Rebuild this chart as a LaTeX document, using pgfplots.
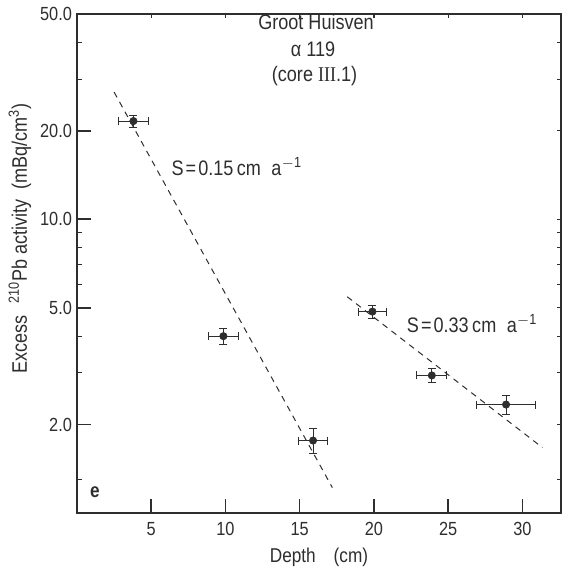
\documentclass[border=0pt]{standalone}
\usepackage{pgfplots}
\pgfplotsset{compat=1.18}
\usepackage{fontspec}
\setmainfont{Liberation Sans}[FakeStretch=0.86]
\newfontfamily\seriffont{Liberation Serif}[FakeStretch=0.86]
\usetikzlibrary{calc}
\definecolor{ink}{HTML}{2E2E2E}
\pgfplotsset{/pgf/number format/assume math mode=true}
\begin{document}
\begin{tikzpicture}
\begin{axis}[
  scale only axis, width=242pt, height=249.5pt,
  xmin=0, xmax=32.6, ymin=1, ymax=50, ymode=log,
  xtick={5,10,15,20,25,30},
  ytick={2,5,10,20,50},
  minor ytick={},
  xtick style={draw=none}, ytick style={draw=none},
  xtick pos=left, ytick pos=left,
  font=\fontsize{9.5}{10}\selectfont,
  axis line style={ink, line width=1pt},
  yticklabels={2.0,5.0,10.0,20.0,50.0},
  xticklabels={5,10,15,20,25,30},
  yticklabel style={xshift=1pt, text=ink},
  xticklabel style={yshift=-1pt, text=ink},
  xlabel={Depth\hspace{9pt}(cm)},
  xlabel style={at={(axis description cs:0.5,-0.088)}, anchor=center, text=ink, font=\fontsize{10}{11}\selectfont},
  ylabel={Excess\hspace{6pt}\textsuperscript{210}Pb activity\hspace{5pt}(mBq/cm\textsuperscript{3})},
  ylabel style={at={(axis description cs:-0.118,0.55)}, anchor=center, text=ink, font=\fontsize{10.5}{11}\selectfont},
  clip=false,
]
\coordinate (sw) at (rel axis cs:0,0);
\coordinate (ne) at (rel axis cs:1,1);
% tick marks (inward), as short segments in axis units
\pgfplotsinvokeforeach{5,10,15,20,25,30}{
  \addplot[ink, line width=0.8pt, forget plot] coordinates {(#1,1) (#1,1.116)};
  \addplot[ink, line width=0.6pt, forget plot] coordinates {(#1,50) (#1,48.3)};
}
\pgfplotsinvokeforeach{2,5,10,20}{
  \addplot[ink, line width=0.8pt, forget plot] coordinates {(0,#1) (0.943,#1)};
}
\pgfplotsinvokeforeach{1.3,3,4,6,7,8,9,30,40}{
  \addplot[ink, line width=0.6pt, forget plot] coordinates {(0,#1) (0.337,#1)};
}
\pgfplotsinvokeforeach{1.3,2,3,4,5,6,7,8,9,10,20,30,40}{
  \addplot[ink, line width=0.6pt, forget plot] coordinates {(32.6,#1) (32.303,#1)};
}
% dashed fit lines
\addplot[ink, line width=0.5pt, dash pattern=on 3pt off 2.6pt] coordinates {(2.5,27.1) (17.2,1.22)};
\addplot[ink, line width=0.5pt, dash pattern=on 3pt off 2.6pt] coordinates {(18.2,5.45) (31.35,1.67)};
% data with error bars
\addplot[ink, only marks, mark=*, mark size=1.8pt, mark options={fill=ink, draw=ink},
  error bars/.cd, x dir=both, x explicit, y dir=both, y explicit,
  error bar style={ink, line width=0.5pt}, error mark options={ink, line width=0.5pt, mark size=2pt, rotate=90}]
  table[x=x, y=y, x error=ex, y error=ey] {
  x     y     ex    ey
  3.8   21.6  1.0   1.0
  9.86  4.0   1.0   0.24
  15.9  1.765 1.0   0.17
  19.9  4.85  0.95  0.25
  23.9  2.94  1.0   0.16
  28.9  2.34  2.0   0.17
};
% annotations
\node[ink, font=\fontsize{10.5}{11}\selectfont] at (axis cs:16.1,46.9) {Groot Huisven};
\node[ink, font=\fontsize{10.5}{11}\selectfont] at (axis cs:15.9,38.0) {α 119};
\node[ink, font=\fontsize{10.5}{11}\selectfont] at (axis cs:16.0,30.8) {(core {\seriffont III}.1)};
\node[ink, anchor=west, inner sep=0pt, font=\fontsize{10.5}{11}\selectfont] at (axis cs:6.35,15.1) {S\kern1pt=\kern1pt0.15\,cm\enspace a\textsuperscript{$-$1}};
\node[ink, anchor=west, inner sep=0pt, font=\fontsize{10.5}{11}\selectfont] at (axis cs:22.2,4.41) {S\kern1pt=\kern1pt0.33\,cm\enspace a\textsuperscript{$-$1}};
\node[ink, font=\bfseries\fontsize{10}{11}\selectfont] at (axis cs:1.2,1.18) {e};
\end{axis}
\pgfresetboundingbox
\path[use as bounding box] ($(sw)+(-38.5pt,-30pt)$) rectangle ($(ne)+(0.5pt,7pt)$);
\end{tikzpicture}
\end{document}
